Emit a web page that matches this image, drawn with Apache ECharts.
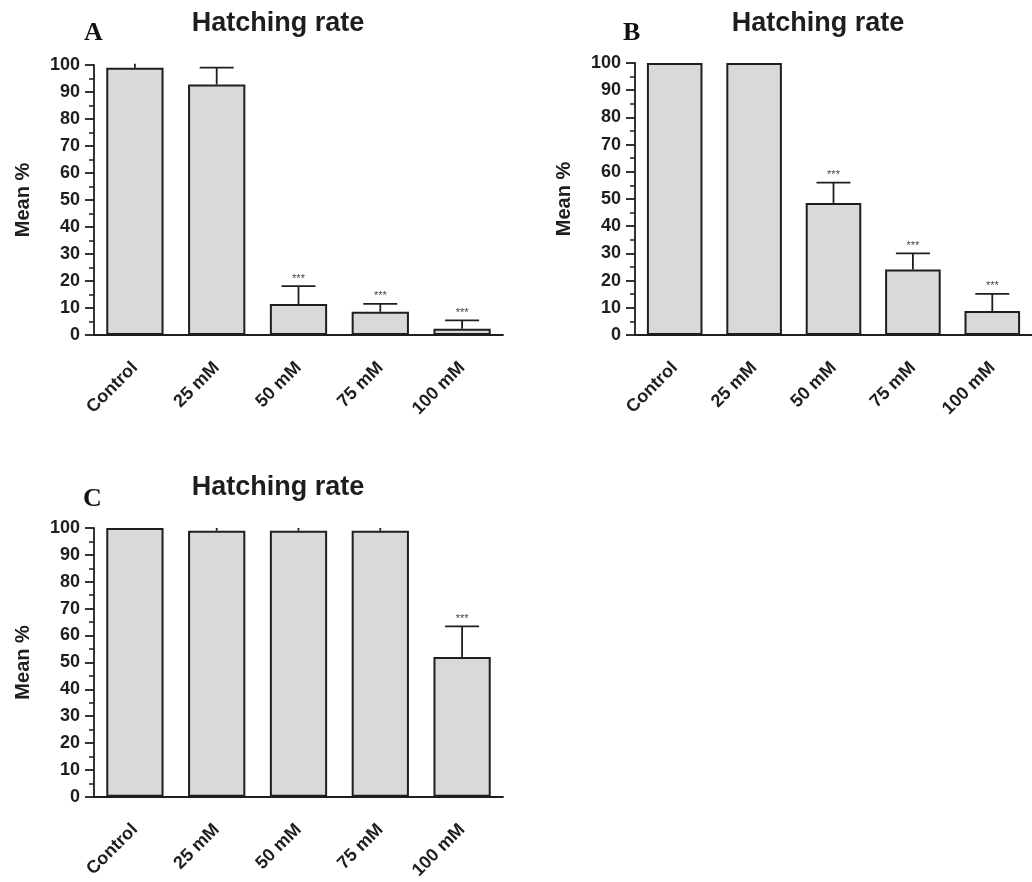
<!DOCTYPE html>
<html><head><meta charset="utf-8">
<script src="https://cdn.jsdelivr.net/npm/echarts@6/dist/echarts.min.js"></script>
<style>html,body{margin:0;padding:0;background:#fff}#c{width:1032px;height:882px}</style>
</head><body><div id="c"></div>
<script>
var categories = ['Control', '25 mM', '50 mM', '75 mM', '100 mM'];
var yTicks = [0, 10, 20, 30, 40, 50, 60, 70, 80, 90, 100];
var meanA = [99, 92.8, 11.5, 8.6, 2.3];
var errA  = [1.5, 6.2, 6.6, 2.9, 3.1];
var sigA  = ['', '', '***', '***', '***'];
var meanB = [100, 100, 48.5, 24.1, 8.8];
var errB  = [0, 0, 7.5, 5.9, 6.3];
var sigB  = ['', '', '***', '***', '***'];
var meanC = [100, 99, 99, 99, 52];
var errC  = [0, 1, 1, 1, 11.4];
var sigC  = ['', '', '', '', '***'];
var panelLetters = ['A', 'B', 'C'];
var panelTitle = 'Hatching rate';
var yName = 'Mean %';

var chart = echarts.init(document.getElementById('c'), null, {renderer: 'canvas'});
var FONT = 'Liberation Sans, Arial, sans-serif';
var ink = '#1e1e1e';

var grids = [
  {left: 94, top: 65, width: 409, height: 270},
  {left: 635, top: 63, width: 406, height: 272},
  {left: 94, top: 528, width: 409, height: 270}
];
var panels = [[meanA, errA, sigA], [meanB, errB, sigB], [meanC, errC, sigC]];

var xAxes = [], yAxes = [], series = [];
grids.forEach(function (g, i) {
  xAxes.push({
    type: 'category', gridIndex: i, data: categories,
    axisLine: {lineStyle: {color: ink, width: 1.8}},
    axisTick: {alignWithLabel: true, length: 11, lineStyle: {color: ink, width: 1.8}},
    axisLabel: {rotate: 45, margin: 30, color: ink, fontFamily: FONT, fontWeight: 'bold', fontSize: 18, interval: 0}
  });
  yAxes.push({
    type: 'value', gridIndex: i, min: yTicks[0], max: yTicks[yTicks.length - 1], interval: yTicks[1] - yTicks[0],
    name: yName, nameLocation: 'middle', nameRotate: 90, nameGap: 61,
    nameTextStyle: {color: ink, fontFamily: FONT, fontWeight: 'bold', fontSize: 20},
    axisLine: {show: true, lineStyle: {color: ink, width: 1.8}},
    axisTick: {show: true, length: 9, lineStyle: {color: ink, width: 1.8}},
    minorTick: {show: true, splitNumber: 2, length: 5, lineStyle: {color: ink, width: 1.5}},
    splitLine: {show: false},
    axisLabel: {margin: 14, color: ink, fontFamily: FONT, fontWeight: 'bold', fontSize: 18}
  });
  var p = panels[i];
  series.push({
    type: 'bar', xAxisIndex: i, yAxisIndex: i, data: p[0], barWidth: '70%',
    itemStyle: {color: '#d9d9d9', borderColor: ink, borderWidth: 2},
    silent: true, z: 2
  });
  var ed = p[0].map(function (m, k) { return [k, m, p[1][k], p[2][k]]; });
  series.push({
    type: 'custom', xAxisIndex: i, yAxisIndex: i, data: ed, z: 3, silent: true,
    renderItem: function (params, api) {
      var x = api.value(0), m = api.value(1), e = api.value(2);
      var s = ed[params.dataIndex][3];
      var p0 = api.coord([x, m]);
      var p1 = api.coord([x, m + e]);
      var children = [];
      if (e > 0) {
        children.push({type: 'line', shape: {x1: p0[0], y1: p0[1], x2: p1[0], y2: p1[1]}, style: {stroke: ink, lineWidth: 1.8}});
        if (e >= 2) {
          children.push({type: 'line', shape: {x1: p1[0] - 17, y1: p1[1], x2: p1[0] + 17, y2: p1[1]}, style: {stroke: ink, lineWidth: 1.8}});
        }
      }
      if (s) {
        children.push({type: 'text', x: p1[0], y: p1[1] - 2, style: {text: s, fill: '#444', font: '11px ' + FONT, align: 'center', verticalAlign: 'bottom'}});
      }
      return {type: 'group', children: children};
    }
  });
});

var titles = [
  {text: panelTitle, left: 273, top: 5, textAlign: 'center'},
  {text: panelTitle, left: 813, top: 5, textAlign: 'center'},
  {text: panelTitle, left: 273, top: 469, textAlign: 'center'}
].map(function (t) {
  t.textStyle = {color: ink, fontFamily: FONT, fontWeight: 'bold', fontSize: 27};
  return t;
});
var letterPos = [[79, 15], [618, 15], [78, 481]];
letterPos.forEach(function (lp, i) {
  titles.push({text: panelLetters[i], left: lp[0], top: lp[1],
    textStyle: {color: '#111', fontFamily: 'Liberation Serif, serif', fontWeight: 'bold', fontSize: 26}});
});

chart.setOption({
  animation: false,
  title: titles,
  grid: grids,
  xAxis: xAxes,
  yAxis: yAxes,
  series: series
});
</script>
</body></html>
